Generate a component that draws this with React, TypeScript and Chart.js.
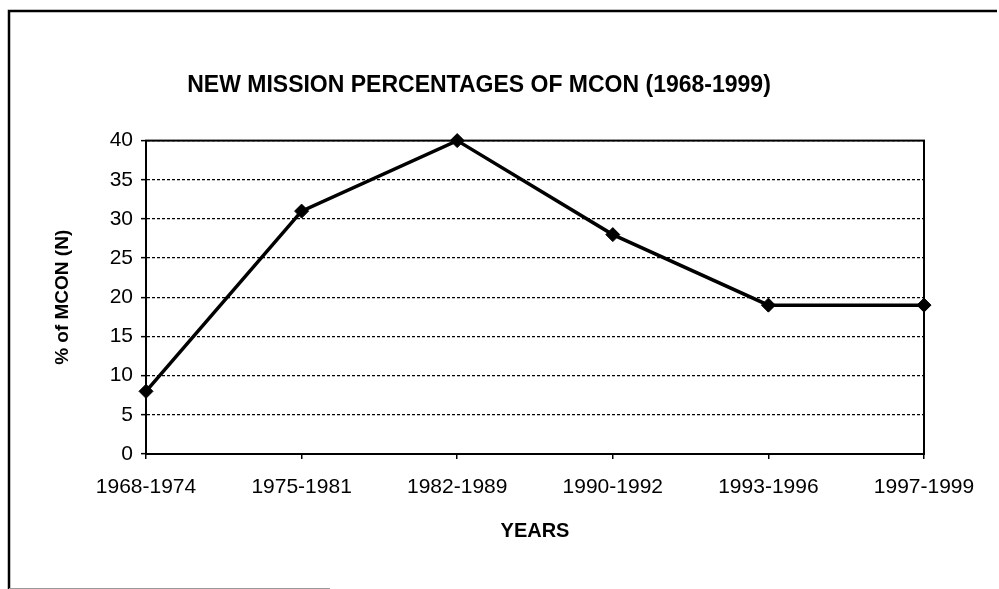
import React, { useEffect, useRef } from "react";
import { Chart, registerables } from "chart.js";

Chart.register(...registerables);

const categories = ["1968-1974", "1975-1981", "1982-1989", "1990-1992", "1993-1996", "1997-1999"];
const percentages = [8, 31, 40, 28, 19, 19];
const yTicks = [0, 5, 10, 15, 20, 25, 30, 35, 40];

const FONT = "'Liberation Sans', Arial, sans-serif";

const framePlugin = {
  id: "frame",
  beforeDraw(chart: any) {
    const { ctx, width, height } = chart;
    ctx.save();
    ctx.fillStyle = "#ffffff";
    ctx.fillRect(0, 0, width, height);
    ctx.restore();
  },
  afterDatasetsDraw(chart: any) {
    const { ctx, chartArea } = chart;
    ctx.save();
    ctx.strokeStyle = "#000";
    ctx.lineWidth = 2.5;
    ctx.beginPath();
    ctx.moveTo(9, 589);
    ctx.lineTo(9, 11);
    ctx.lineTo(997, 11);
    ctx.stroke();
    ctx.strokeStyle = "#999";
    ctx.lineWidth = 1;
    ctx.beginPath();
    ctx.moveTo(9, 588.5);
    ctx.lineTo(330, 588.5);
    ctx.stroke();
    ctx.restore();
  },
  beforeDatasetsDraw(chart: any) {
    const { ctx, chartArea } = chart;
    ctx.save();
    ctx.strokeStyle = "#000";
    ctx.lineWidth = 2;
    ctx.setLineDash([]);
    ctx.strokeRect(chartArea.left, chartArea.top, chartArea.right - chartArea.left, chartArea.bottom - chartArea.top);
    ctx.restore();
  },
};

export default function App() {
  const ref = useRef<HTMLCanvasElement>(null);
  useEffect(() => {
    if (!ref.current) return;
    const chart = new Chart(ref.current, {
      type: "line",
      data: {
        labels: categories,
        datasets: [
          {
            data: percentages,
            borderColor: "#000",
            backgroundColor: "#000",
            borderWidth: 3.5,
            pointStyle: "rectRot",
            pointRadius: 7,
            pointBorderWidth: 1,
            tension: 0,
            clip: false as any,
          },
        ],
      },
      options: {
        animation: false,
        responsive: false,
        layout: { padding: { left: 34, right: 75, top: 0, bottom: 0 } },
        plugins: {
          legend: { display: false },
          tooltip: { enabled: false },
          title: {
            display: true,
            text: "NEW MISSION PERCENTAGES OF MCON (1968-1999)",
            color: "#000",
            font: { family: FONT, size: 23, weight: "bold" },
            padding: { top: 72, bottom: 41 },
          },
        },
        scales: {
          x: {
            type: "category",
            offset: false,
            afterFit(scale: any) {
              scale.height = 135;
              scale.paddingLeft = 0;
              scale.paddingRight = 0;
            },
            grid: {
              drawOnChartArea: false,
              drawTicks: true,
              tickLength: 5,
              color: "#000",
              lineWidth: 1.5,
            },
            border: { display: true, color: "#000", width: 2 },
            ticks: {
              color: "#000",
              font: { family: FONT, size: 21 },
              padding: 16,
              maxRotation: 0,
              autoSkip: false,
            },
            title: {
              display: true,
              text: "YEARS",
              color: "#000",
              font: { family: FONT, size: 20, weight: "bold" },
              padding: { top: 0, bottom: 46 },
            },
          },
          y: {
            min: 0,
            max: 40,
            afterFit(scale: any) {
              scale.width = 112;
              scale.paddingTop = 0;
              scale.paddingBottom = 0;
            },
            afterBuildTicks(scale: any) {
              scale.ticks = yTicks.map((v) => ({ value: v }));
            },
            grid: {
              color: "#000",
              lineWidth: 1.3,
              tickLength: 5,
              tickBorderDash: [],
              tickWidth: 1.5,
            } as any,
            border: { display: true, color: "#000", width: 2, dash: [3, 2] },
            ticks: {
              color: "#000",
              font: { family: FONT, size: 21 },
              padding: 8,
            },
            title: {
              display: true,
              text: "% of MCON (N)",
              color: "#000",
              font: { family: FONT, size: 19, weight: "bold" },
              padding: { top: 17, bottom: 0 },
            },
          },
        },
      },
      plugins: [framePlugin],
    });
    return () => chart.destroy();
  }, []);
  return (
    <div style={{ position: "absolute", left: 0, top: 0, width: 999, height: 589 }}>
      <canvas ref={ref} width={999} height={589} style={{ display: "block" }} />
    </div>
  );
}
